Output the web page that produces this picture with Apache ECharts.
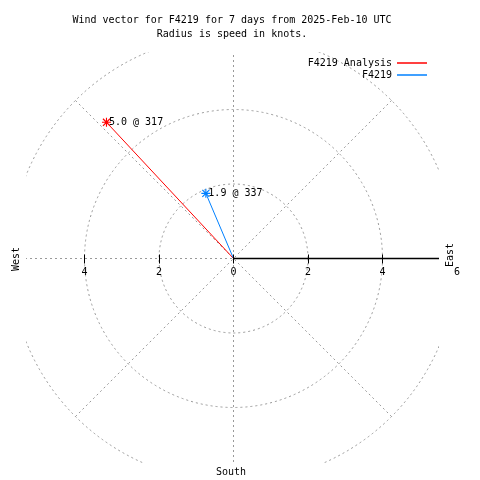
<!DOCTYPE html>
<html><head><meta charset="utf-8">
<script src="https://cdn.jsdelivr.net/npm/echarts@6/dist/echarts.min.js"></script>
<style>html,body{margin:0;padding:0;background:#fff}#c{width:480px;height:480px}</style>
</head><body><div id="c"></div>
<script>
// ---- data ----
const seriesNames = ['F4219 Analysis', 'F4219'];
const speeds = [5.0, 1.9];          // knots
const directions = [317, 337];      // degrees
const colors = ['#ff0000', '#0080ff'];
const radiusMax = 6;
const radiusInterval = 2;
const tickValues = [-4, -2, 0, 2, 4];
const tickLabelValues = [-4, -2, 0, 2, 4, 6];
const titleLines = ['Wind vector for F4219 for 7 days from 2025-Feb-10 UTC', 'Radius is speed in knots.'];
const compassLabels = ['West', 'East', 'South'];

// ---- layout ----
const FONT = 'DejaVu Sans Mono';
const CX = 233.5, CY = 258.5, R = 223.5;
const CLIP = {x0: 26, y0: 52, x1: 439, y1: 463};
const STAR = 'path://M7,0H9V16H7Z M0,7H16V9H0Z M1,2.5L2.5,1L15,13.5L13.5,15Z M13.5,1L15,2.5L2.5,15L1,13.5Z';
const gridStyle = {color: '#999999', type: [2, 3], width: 1};

const vectorSeries = seriesNames.map((name, i) => ({
  type: 'line', name, coordinateSystem: 'polar', polarIndex: 0,
  animation: false, z: 3,
  lineStyle: {color: colors[i], width: 1},
  itemStyle: {color: colors[i]},
  data: [
    {value: [0, directions[i]], symbol: 'none'},
    {value: [speeds[i], directions[i]], symbol: STAR, symbolSize: 9,
     label: {show: true, position: 'right', distance: -2, color: '#000',
             fontFamily: FONT, fontSize: 10,
             formatter: speeds[i].toFixed(1) + ' @ ' + directions[i]}}
  ]
}));

const white = {fill: '#fff'};
const option = {
  backgroundColor: '#fff',
  animation: false,
  title: {
    text: titleLines.join('\n'), left: 232, top: 13, padding: 0, textAlign: 'center', z: 100,
    textStyle: {fontFamily: FONT, fontSize: 10, fontWeight: 'normal', color: '#000', lineHeight: 14}
  },
  legend: {
    data: seriesNames.map((n, i) => ({name: n, itemStyle: {color: colors[i]}})),
    orient: 'vertical', right: 53, top: 57, padding: 0, align: 'right',
    icon: 'rect', itemWidth: 30, itemHeight: 1.5, itemGap: 0, z: 100,
    textStyle: {fontFamily: FONT, fontSize: 10, color: '#000', lineHeight: 12}
  },
  polar: {center: [CX, CY], radius: R},
  angleAxis: {
    type: 'value', min: 0, max: 360, interval: 45, startAngle: 90, clockwise: true,
    axisLine: {show: false}, axisTick: {show: false}, axisLabel: {show: false},
    splitLine: {show: true, lineStyle: gridStyle}
  },
  radiusAxis: {
    type: 'value', min: 0, max: radiusMax, interval: radiusInterval,
    axisLine: {show: false}, axisTick: {show: false}, axisLabel: {show: false},
    splitLine: {show: true, lineStyle: gridStyle}
  },
  grid: {left: CX - R, top: CY - R, width: 2 * R, height: R, containLabel: false},
  xAxis: {
    type: 'value', min: -radiusMax, max: radiusMax, offset: -4, z: 100,
    axisLine: {show: false}, splitLine: {show: false},
    axisTick: {show: true, length: 9, customValues: tickValues, lineStyle: {color: '#000', width: 1}},
    axisLabel: {show: true, customValues: tickLabelValues, margin: 13, color: '#000',
                fontFamily: FONT, fontSize: 10, formatter: v => String(Math.abs(v))}
  },
  yAxis: {type: 'value', min: 0, max: radiusMax, show: false},
  graphic: {elements: [
    {type: 'rect', shape: {x: 0, y: 0, width: 480, height: CLIP.y0}, style: white, z: 50, silent: true},
    {type: 'rect', shape: {x: 0, y: CLIP.y1, width: 480, height: 480 - CLIP.y1}, style: white, z: 50, silent: true},
    {type: 'rect', shape: {x: 0, y: 0, width: CLIP.x0, height: 480}, style: white, z: 50, silent: true},
    {type: 'rect', shape: {x: CLIP.x1, y: 0, width: 480 - CLIP.x1, height: 480}, style: white, z: 50, silent: true},
    {type: 'text', x: 16, y: 259, rotation: Math.PI / 2, z: 100,
     style: {text: compassLabels[0], fontFamily: FONT, fontSize: 10, fill: '#000', align: 'center', verticalAlign: 'middle'}},
    {type: 'text', x: 450, y: 255, rotation: Math.PI / 2, z: 100,
     style: {text: compassLabels[1], fontFamily: FONT, fontSize: 10, fill: '#000', align: 'center', verticalAlign: 'middle'}},
    {type: 'text', x: 231, y: 472, z: 100,
     style: {text: compassLabels[2], fontFamily: FONT, fontSize: 10, fill: '#000', align: 'center', verticalAlign: 'middle'}}
  ]},
  series: [
    {type: 'line', name: 'r-axis', coordinateSystem: 'polar', polarIndex: 0, z: 2, silent: true,
     symbol: 'none', lineStyle: {color: '#000', width: 1.5},
     data: [[0, 90], [radiusMax, 90]]},
    ...vectorSeries
  ]
};
const chart = echarts.init(document.getElementById('c'), null, {renderer: 'canvas'});
chart.setOption(option);
</script>
</body></html>
